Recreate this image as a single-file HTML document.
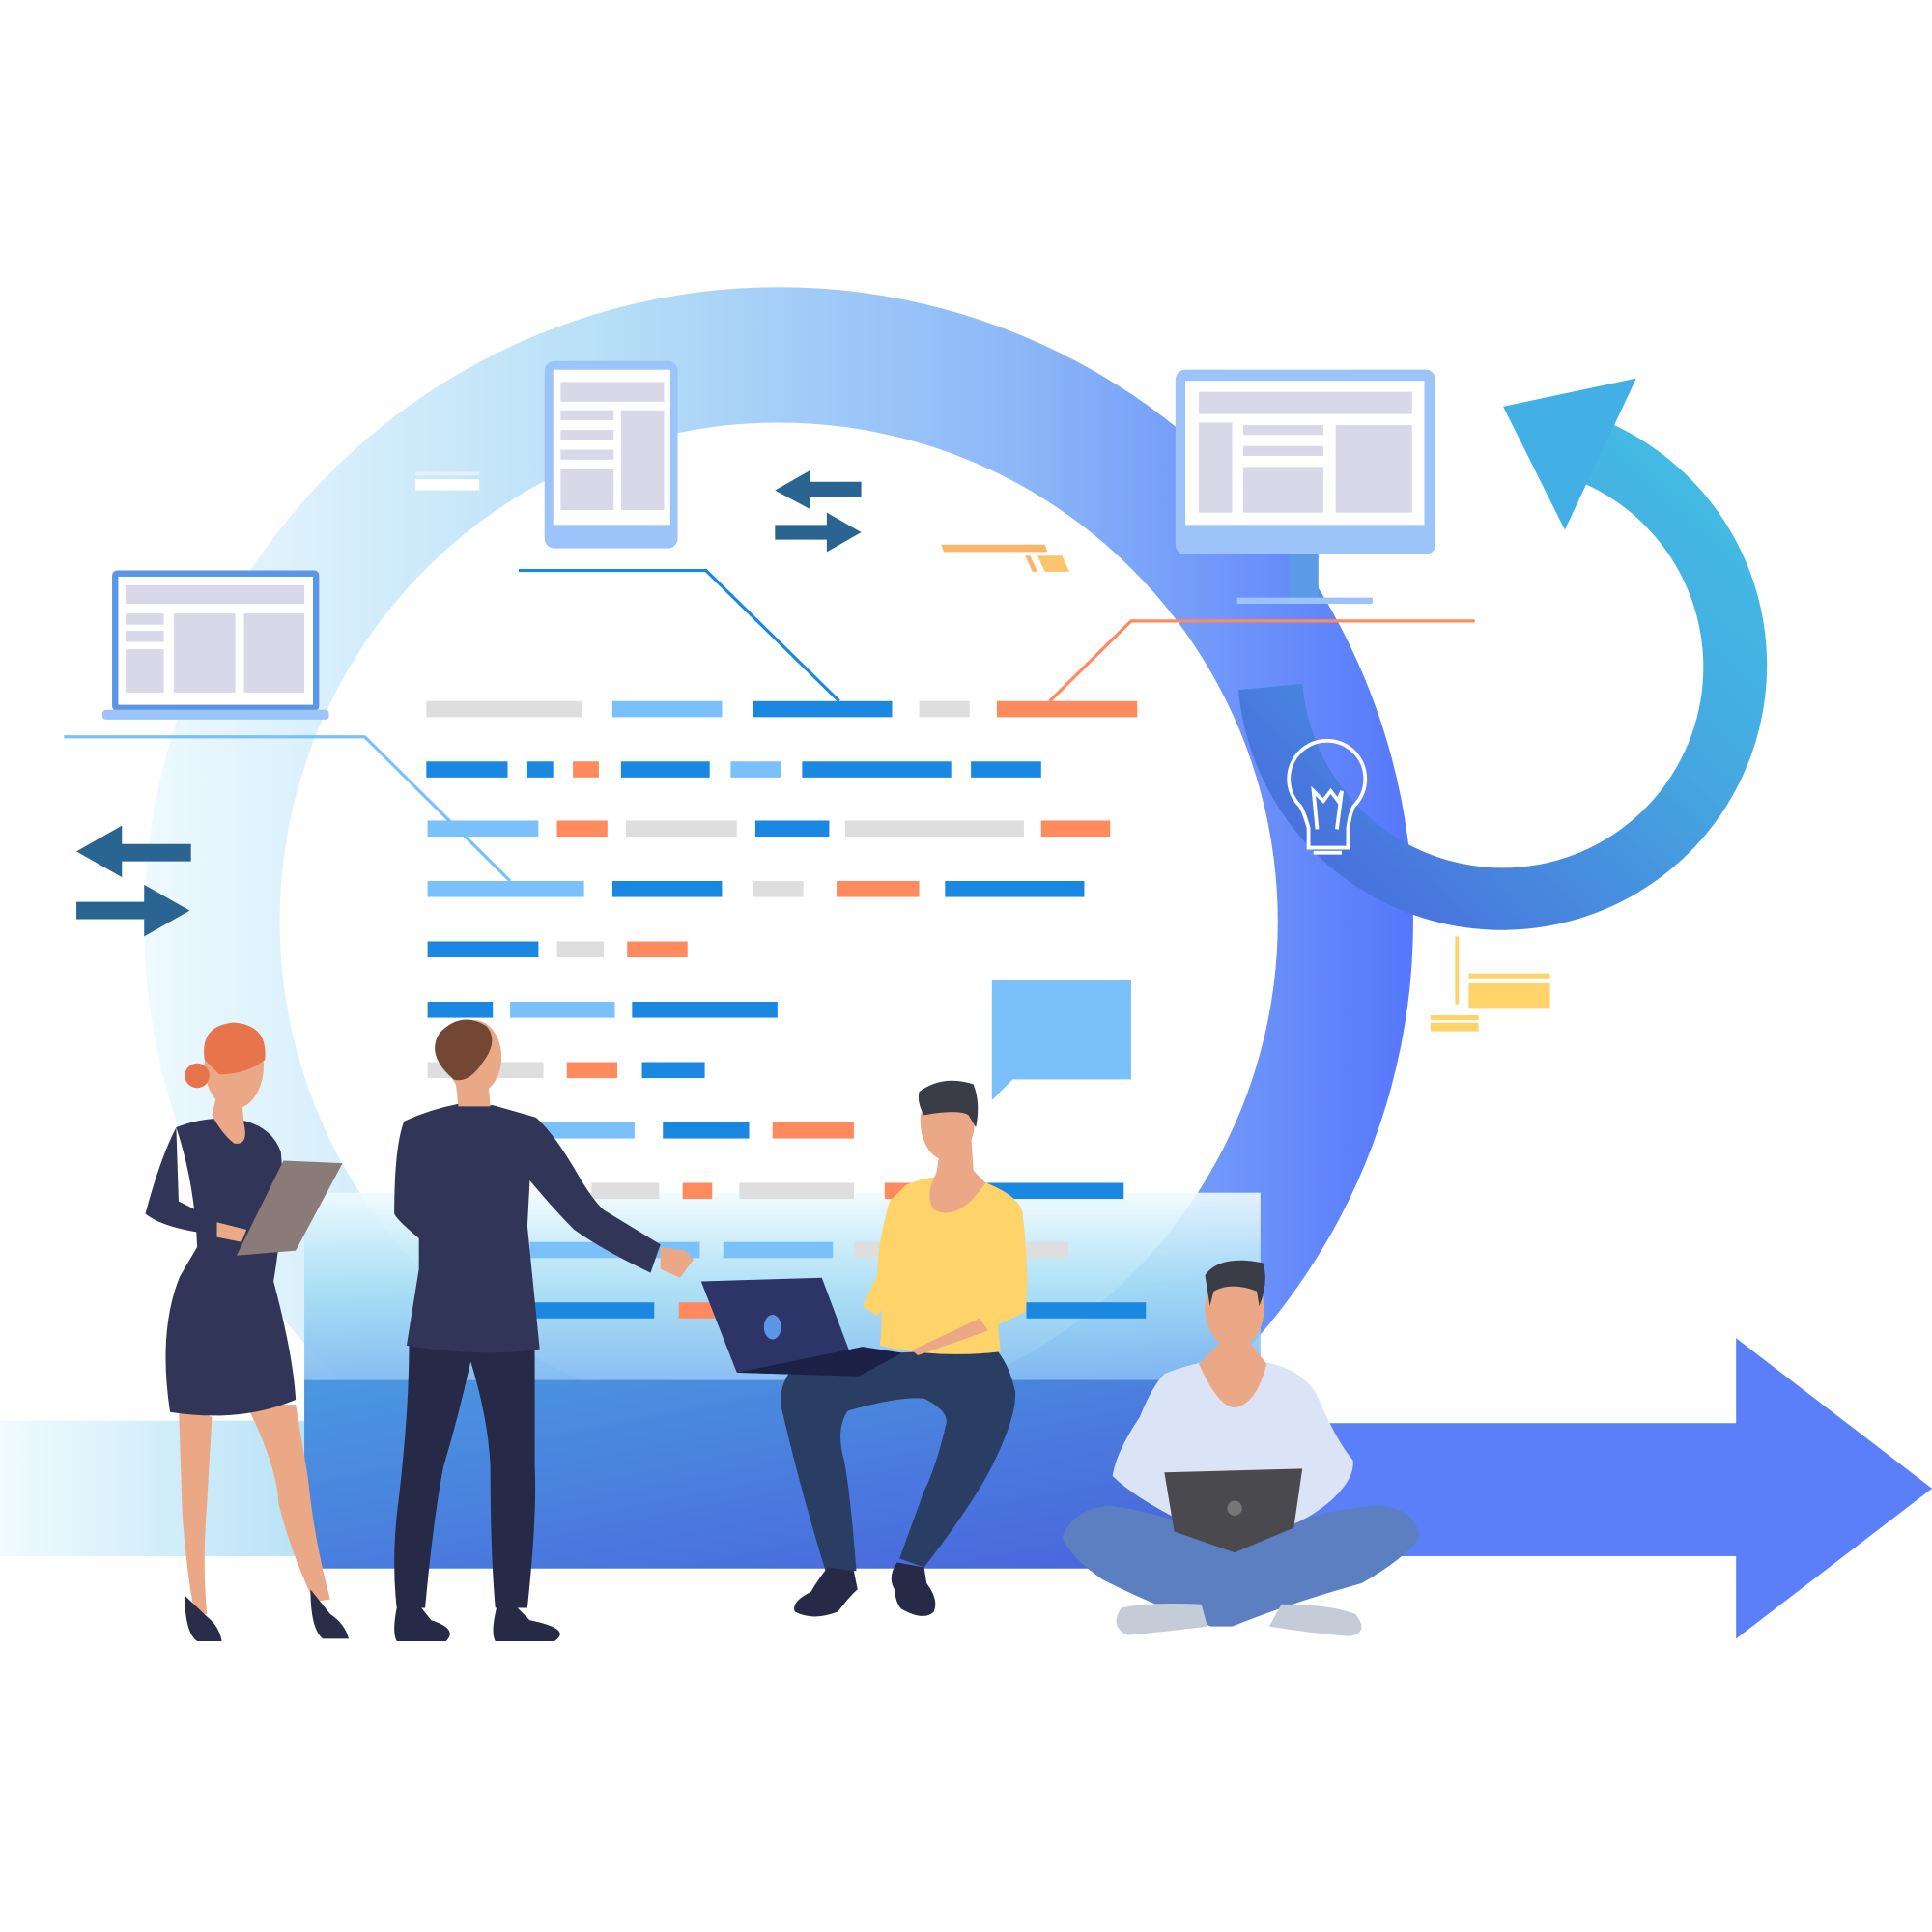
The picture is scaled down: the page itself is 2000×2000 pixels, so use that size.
<!DOCTYPE html>
<html><head><meta charset="utf-8"><style>
html,body{margin:0;padding:0;background:#fff;}
svg{display:block;width:2000px;height:2000px;}
</style></head><body>
<svg viewBox="0 0 1568 1568" xmlns="http://www.w3.org/2000/svg">
<defs>
<linearGradient id="ring" x1="0" x2="1" y1="0" y2="0">
<stop offset="0" stop-color="#eefaff"/><stop offset="0.35" stop-color="#b9e0f7"/><stop offset="0.7" stop-color="#8ab6f8"/><stop offset="1" stop-color="#5577fb"/></linearGradient>
<linearGradient id="band" x1="0" x2="0" y1="0" y2="1">
<stop offset="0" stop-color="#f0fbff"/><stop offset="0.5" stop-color="#a6def4"/><stop offset="1" stop-color="#7fb8f0"/></linearGradient>
<linearGradient id="band2" x1="0" x2="1" y1="0" y2="1">
<stop offset="0" stop-color="#4a98e0"/><stop offset="1" stop-color="#4a62dc"/></linearGradient>
<linearGradient id="left" x1="0" x2="1"><stop offset="0" stop-color="#f0fbff"/><stop offset="1" stop-color="#b8e2f6"/></linearGradient>
<linearGradient id="circ" x1="0" x2="1" y1="1" y2="0"><stop offset="0" stop-color="#4a5fdc"/><stop offset="0.6" stop-color="#45a8e0"/><stop offset="1" stop-color="#42c3e6"/></linearGradient>
</defs>
<!-- left band -->
<rect x="0" y="1153" width="250" height="110" fill="url(#left)"/>
<!-- big ring -->
<path fill-rule="evenodd" fill="url(#ring)" d="M632,233 A515,515 0 1 1 631.9,233 Z M632,343 A405,405 0 1 0 632.1,343 Z"/>
<!-- bottom band -->
<rect x="247" y="968" width="776" height="152" fill="url(#band)" opacity="0.9"/>
<rect x="247" y="1120" width="776" height="153" fill="url(#band2)"/>
<!-- right arrow -->
<rect x="1020" y="1155" width="392" height="108" fill="#5b7ff8"/>
<polygon points="1409,1086 1568,1208 1409,1330" fill="#5b7ff8"/>
<!-- circular arrow -->
<path fill="url(#circ)" d="M1310,345 A215,215 0 1 1 1005,560 L1057,555 A163,163 0 1 0 1287,393 Z"/>
<polygon points="1220,330 1328,307 1270,430" fill="#42b0e4"/>
<!-- monitor right -->
<rect x="1046" y="448" width="24" height="38" fill="#5b9ae6"/>
<rect x="1004" y="485" width="110" height="5" fill="#9cc4fb"/>
<rect x="954" y="300" width="211" height="150" rx="8" fill="#9cc4fb"/>
<rect x="962" y="309" width="194" height="117" fill="#fff"/>
<rect x="973" y="318" width="173" height="18" fill="#d8d8e8"/>
<rect x="973" y="343" width="27" height="73" fill="#d8d8e8"/>
<rect x="1009" y="345" width="65" height="8" fill="#d8d8e8"/>
<rect x="1009" y="362" width="65" height="8" fill="#d8d8e8"/>
<rect x="1009" y="379" width="65" height="37" fill="#d8d8e8"/>
<rect x="1084" y="345" width="62" height="71" fill="#d8d8e8"/>
<!-- tablet top -->
<rect x="442" y="293" width="108" height="152" rx="8" fill="#9cc4fb"/>
<rect x="449" y="300" width="95" height="126" fill="#fff"/>
<rect x="455" y="310" width="84" height="16" fill="#d8d8e8"/>
<rect x="455" y="333" width="43" height="8" fill="#d8d8e8"/>
<rect x="455" y="349" width="43" height="8" fill="#d8d8e8"/>
<rect x="455" y="365" width="43" height="8" fill="#d8d8e8"/>
<rect x="455" y="381" width="43" height="33" fill="#d8d8e8"/>
<rect x="504" y="333" width="35" height="81" fill="#d8d8e8"/>
<!-- laptop left -->
<rect x="91" y="463" width="168" height="114" rx="4" fill="#5b95e6"/>
<rect x="96" y="468" width="158" height="104" fill="#fff"/>
<rect x="83" y="576" width="184" height="8" rx="3" fill="#9cc4fb"/>
<rect x="102" y="475" width="145" height="15" fill="#d8d8e8"/>
<rect x="102" y="498" width="31" height="9" fill="#d8d8e8"/>
<rect x="102" y="512" width="31" height="9" fill="#d8d8e8"/>
<rect x="102" y="527" width="31" height="35" fill="#d8d8e8"/>
<rect x="141" y="498" width="50" height="64" fill="#d8d8e8"/>
<rect x="198" y="498" width="49" height="64" fill="#d8d8e8"/>
<!-- small decorations -->
<rect x="337" y="383" width="52" height="3" fill="#e6f0fa"/><rect x="337" y="389" width="52" height="9" fill="#fff"/>
<polygon points="764,442 848,442 850,448 766,448" fill="#f8b66a"/>
<polygon points="832,451 836,451 842,464 838,464" fill="#f8b66a"/>
<polygon points="842,451 862,451 868,464 848,464" fill="#fbc56d"/>
<rect x="1181" y="760" width="3" height="55" fill="#fdd36a"/>
<rect x="1192" y="790" width="66" height="4" fill="#fdd36a"/>
<rect x="1192" y="798" width="66" height="20" fill="#fdd36a"/>
<rect x="1161" y="824" width="39" height="4" fill="#fdd36a"/>
<rect x="1161" y="830" width="39" height="7" fill="#fdd36a"/>
<!-- double arrows -->
<g fill="#2a6592">
<polygon points="629,398 657,382 657,391 699,391 699,403 657,403 657,413"/>
<polygon points="699,432 671,416 671,426 629,426 629,438 671,438 671,448"/>
<polygon points="62,691 99,670 99,685 155,685 155,699 99,699 99,712"/>
<polygon points="154,739 117,718 117,732 62,732 62,746 117,746 117,760"/>
</g>
<!-- bulb -->
<g fill="none" stroke="#fff" stroke-width="3">
<path d="M1062,688 L1062,672 Q1058,658 1055,654 A31,31 0 1 1 1099,654 Q1096,658 1094,672 L1094,688 Z"/>
<path d="M1069,673 L1066,642 L1074,650 L1080,642 L1086,650 L1089,642 L1085,673"/>
<line x1="1066" y1="692" x2="1089" y2="692"/>
</g>
<!-- speech bubble -->
<polygon points="805,795 918,795 918,876 822,876 805,893" fill="#7ac0fb"/>
<!-- connector lines -->
<polyline points="421,463 573,463 681,569" fill="none" stroke="#1a88e0" stroke-width="2.5"/>
<polyline points="52,598 296,598 414,715" fill="none" stroke="#7ac0fb" stroke-width="2.5"/>
<polyline points="1197,504 918,504 852,569" fill="none" stroke="#ff8a5e" stroke-width="2.5"/>
<!-- code bars -->
<g>
<rect x="346" y="569" width="126" height="13" fill="#dedede"/><rect x="497" y="569" width="89" height="13" fill="#7ac0fb"/><rect x="611" y="569" width="113" height="13" fill="#1a88e0"/><rect x="746" y="569" width="41" height="13" fill="#dedede"/><rect x="809" y="569" width="114" height="13" fill="#ff8a5e"/>
<rect x="346" y="618" width="66" height="13" fill="#1a88e0"/><rect x="428" y="618" width="21" height="13" fill="#1a88e0"/><rect x="465" y="618" width="21" height="13" fill="#ff8a5e"/><rect x="504" y="618" width="72" height="13" fill="#1a88e0"/><rect x="593" y="618" width="41" height="13" fill="#7ac0fb"/><rect x="651" y="618" width="121" height="13" fill="#1a88e0"/><rect x="788" y="618" width="57" height="13" fill="#1a88e0"/>
<rect x="347" y="666" width="90" height="13" fill="#7ac0fb"/><rect x="452" y="666" width="41" height="13" fill="#ff8a5e"/><rect x="508" y="666" width="90" height="13" fill="#dedede"/><rect x="613" y="666" width="60" height="13" fill="#1a88e0"/><rect x="686" y="666" width="145" height="13" fill="#dedede"/><rect x="845" y="666" width="56" height="13" fill="#ff8a5e"/>
<rect x="347" y="715" width="127" height="13" fill="#7ac0fb"/><rect x="497" y="715" width="89" height="13" fill="#1a88e0"/><rect x="611" y="715" width="41" height="13" fill="#dedede"/><rect x="679" y="715" width="67" height="13" fill="#ff8a5e"/><rect x="767" y="715" width="113" height="13" fill="#1a88e0"/>
<rect x="347" y="764" width="90" height="13" fill="#1a88e0"/><rect x="452" y="764" width="38" height="13" fill="#dedede"/><rect x="509" y="764" width="49" height="13" fill="#ff8a5e"/>
<rect x="347" y="813" width="53" height="13" fill="#1a88e0"/><rect x="414" y="813" width="85" height="13" fill="#7ac0fb"/><rect x="513" y="813" width="118" height="13" fill="#1a88e0"/>
<rect x="347" y="862" width="94" height="13" fill="#dedede"/><rect x="460" y="862" width="41" height="13" fill="#ff8a5e"/><rect x="521" y="862" width="51" height="13" fill="#1a88e0"/>
<rect x="440" y="911" width="75" height="13" fill="#7ac0fb"/><rect x="538" y="911" width="70" height="13" fill="#1a88e0"/><rect x="627" y="911" width="66" height="13" fill="#ff8a5e"/>
<rect x="480" y="960" width="55" height="13" fill="#dedede"/><rect x="554" y="960" width="24" height="13" fill="#ff8a5e"/><rect x="600" y="960" width="93" height="13" fill="#dedede"/><rect x="718" y="960" width="22" height="13" fill="#ff8a5e"/><rect x="800" y="960" width="112" height="13" fill="#1a88e0"/>
<rect x="430" y="1008" width="138" height="13" fill="#7ac0fb"/><rect x="587" y="1008" width="89" height="13" fill="#7ac0fb"/><rect x="693" y="1008" width="22" height="13" fill="#dedede"/><rect x="833" y="1008" width="34" height="13" fill="#dedede"/>
<rect x="430" y="1057" width="101" height="13" fill="#1a88e0"/><rect x="551" y="1057" width="29" height="13" fill="#ff8a5e"/><rect x="833" y="1057" width="97" height="13" fill="#1a88e0"/>
</g>
<!-- woman left -->
<g>
<path d="M145,1140 L148,1230 Q152,1280 158,1310 L168,1310 Q164,1270 168,1220 L172,1150 Z" fill="#eba886"/>
<path d="M200,1140 Q225,1190 226,1220 Q236,1260 255,1300 L268,1298 Q255,1250 250,1200 L240,1140 Z" fill="#eba886"/>
<path d="M150,1295 Q150,1325 160,1332 L180,1332 Q178,1320 168,1312 Z" fill="#2b2b4a"/>
<path d="M252,1290 Q252,1322 262,1330 L283,1330 Q280,1318 268,1310 Z" fill="#2b2b4a"/>
<path d="M143,915 Q165,906 190,908 Q220,912 228,935 Q232,980 222,1040 Q238,1100 240,1136 Q195,1155 138,1146 Q128,1080 146,1036 L160,1012 Q158,960 143,915 Z" fill="#313557"/>
<path d="M143,915 Q130,940 118,985 Q130,995 160,1000 L165,985 L145,975 Z" fill="#313557"/>
<path d="M172,905 Q180,920 190,928 Q202,930 198,912 L196,890 L176,888 Z" fill="#eba886"/>
<ellipse cx="190" cy="865" rx="24" ry="35" fill="#eba886"/>
<path d="M166,860 Q162,832 190,830 Q218,832 215,860 Q200,872 178,872 Z" fill="#e8744c"/>
<circle cx="160" cy="873" r="10" fill="#e8744c"/>
<polygon points="230,942 278,944 240,1015 192,1019" fill="#8a7a78"/>
<path d="M176,992 L200,998 L196,1008 L176,1004 Z" fill="#eba886"/>
</g>
<!-- man standing -->
<g>
<path d="M332,1090 Q332,1150 322,1230 Q318,1270 322,1305 L345,1305 Q352,1230 360,1190 Q372,1150 382,1105 Q396,1150 398,1190 Q398,1260 402,1305 L428,1305 Q436,1230 434,1190 L434,1095 Z" fill="#262a47"/>
<path d="M322,1305 Q318,1325 322,1332 L362,1332 Q372,1322 350,1315 L342,1305 Z" fill="#262a47"/>
<path d="M403,1305 Q398,1325 402,1332 L450,1332 Q465,1322 430,1315 L420,1305 Z" fill="#262a47"/>
<path d="M328,910 Q350,900 372,896 L400,897 Q418,902 435,907 Q450,920 470,955 Q482,975 490,982 L536,1010 L528,1033 Q490,1015 466,998 Q450,982 430,958 L428,995 L438,1095 Q390,1102 330,1092 L340,1030 L340,1005 Q322,990 320,985 Q320,930 328,910 Z" fill="#313557"/>
<path d="M536,1012 L556,1015 L563,1022 L552,1037 L536,1030 Z" fill="#eba886"/>
<path d="M370,880 L372,898 L398,898 L396,876 Z" fill="#eba886"/>
<ellipse cx="385" cy="858" rx="22" ry="30" fill="#eba886"/>
<path d="M357,838 Q375,820 395,833 Q405,845 392,862 Q380,880 368,876 Q345,856 357,838 Z" fill="#744634"/>
</g>
<!-- man with laptop (yellow) -->
<g>
<path d="M640,1115 Q630,1130 636,1150 Q650,1210 670,1275 L695,1275 Q690,1210 685,1185 Q678,1160 688,1145 Q730,1133 750,1135 Q770,1145 768,1155 Q760,1190 750,1210 L730,1265 L750,1272 Q790,1220 805,1190 Q825,1150 824,1130 Q820,1110 810,1097 Q760,1095 700,1100 Z" fill="#2a3d62"/>
<path d="M672,1272 Q665,1280 658,1292 Q642,1300 645,1308 Q660,1316 680,1308 Q690,1295 696,1290 L693,1275 Z" fill="#262a47"/>
<path d="M728,1268 Q720,1280 726,1290 Q727,1302 732,1306 Q750,1316 758,1308 Q762,1298 752,1285 L750,1272 Z" fill="#262a47"/>
<path d="M735,962 Q760,950 795,958 Q828,970 830,985 Q836,1040 832,1065 L810,1075 L812,1097 Q760,1103 714,1092 Q718,1060 712,1045 Q715,1000 722,975 Z" fill="#fdd36a"/>
<path d="M722,975 Q712,1010 712,1035 L700,1060 L712,1068 Q730,1045 732,1010 Z" fill="#fdd36a"/>
<path d="M760,952 Q750,970 758,982 Q778,992 800,960 L790,950 L788,920 L765,920 Z" fill="#eba886"/>
<ellipse cx="769" cy="910" rx="22" ry="32" fill="#eba886"/>
<path d="M746,886 Q765,872 790,880 Q796,895 792,915 L786,905 Q778,900 750,905 Q744,895 746,886 Z" fill="#3a3d47"/>
<path d="M740,1096 L795,1070 L802,1080 L745,1100 Z" fill="#eba886"/>
<polygon points="569,1040 667,1037 697,1117 598,1114" fill="#2d3468"/>
<polygon points="598,1114 697,1117 732,1098 700,1093" fill="#1c2247"/>
<ellipse cx="627" cy="1077" rx="7" ry="10" fill="#5b95e6"/>
</g>
<!-- sitting man right -->
<g>
<path d="M862,1248 Q870,1225 900,1222 Q950,1228 1002,1255 Q1060,1225 1120,1222 Q1150,1225 1152,1248 Q1140,1265 1105,1285 Q1050,1300 1000,1320 L983,1320 Q930,1300 895,1282 Q870,1265 862,1248 Z" fill="#5b7fc0"/>
<path d="M910,1305 Q930,1300 975,1302 L980,1320 Q940,1325 915,1327 Q900,1320 910,1305 Z" fill="#c5ccd8"/>
<path d="M1040,1302 Q1080,1302 1100,1310 Q1112,1325 1095,1328 Q1060,1325 1030,1320 Z" fill="#c5ccd8"/>
<path d="M945,1115 Q970,1105 995,1103 L1025,1105 Q1060,1112 1070,1135 Q1085,1170 1098,1185 Q1100,1200 1080,1218 Q1060,1235 1040,1240 L960,1235 Q920,1215 903,1198 Q905,1180 925,1150 Q935,1125 945,1115 Z" fill="#dbe4f6"/>
<path d="M973,1107 Q990,1145 1004,1142 Q1020,1138 1028,1107 L1015,1090 L990,1090 Z" fill="#eba886"/>
<ellipse cx="1002" cy="1062" rx="24" ry="32" fill="#eba886"/>
<path d="M978,1035 Q990,1018 1025,1025 Q1030,1040 1022,1060 L1020,1048 Q1000,1040 985,1048 L982,1060 Z" fill="#3a3d47"/>
<polygon points="945,1195 1057,1192 1050,1240 1002,1260 953,1243" fill="#4a4a4e"/>
<circle cx="1002" cy="1224" r="6" fill="#777"/>
</g>
</svg>
</body></html>
